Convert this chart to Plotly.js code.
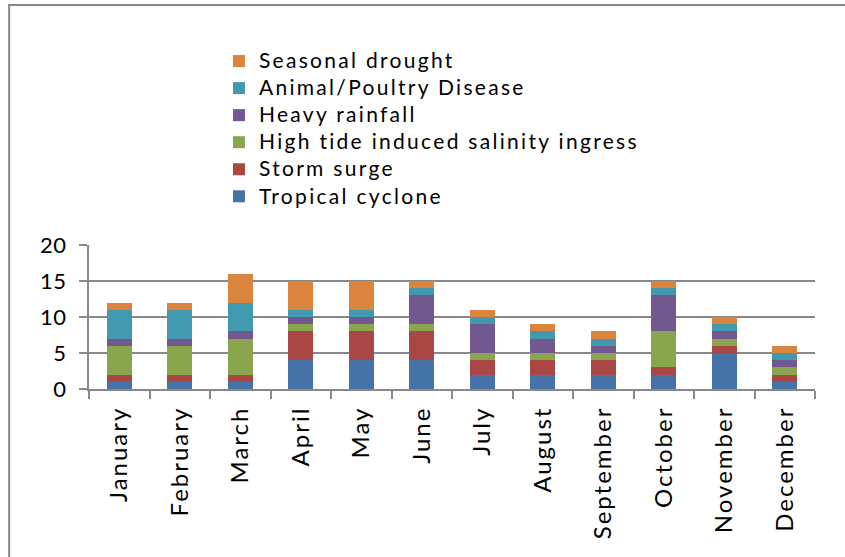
<!DOCTYPE html>
<html>
<head>
<meta charset="utf-8">
<script src="https://cdn.plot.ly/plotly-3.0.1.min.js"></script>
<style>
html,body{margin:0;padding:0;background:#fff;}
#chart{width:845px;height:557px;}
#chart .legendtext{font-size:21px !important;letter-spacing:2.3px;}
#chart .legend .scrollbox{clip-path:none !important;}
#chart .xtick text{letter-spacing:2px;}
#chart .ytick text{letter-spacing:0.5px;}
</style>
</head>
<body>
<div id="chart"></div>
<script>
const months = ["January","February","March","April","May","June","July","August","September","October","November","December"];
const tropicalCyclone = [1,1,1,4,4,4,2,2,2,2,5,1];
const stormSurge      = [1,1,1,4,4,4,2,2,2,1,1,1];
const highTide        = [4,4,5,1,1,1,1,1,1,5,1,1];
const heavyRainfall   = [1,1,1,1,1,4,4,2,1,5,1,1];
const animalDisease   = [4,4,4,1,1,1,1,1,1,1,1,1];
const seasonalDrought = [1,1,4,4,4,1,1,1,1,1,1,1];

const series = [
  {name:"Tropical cyclone", y:tropicalCyclone, color:"#4572A7"},
  {name:"Storm surge", y:stormSurge, color:"#AA4643"},
  {name:"High tide induced salinity ingress", y:highTide, color:"#89A54E"},
  {name:"Heavy rainfall", y:heavyRainfall, color:"#71588F"},
  {name:"Animal/Poultry Disease", y:animalDisease, color:"#4198AF"},
  {name:"Seasonal drought", y:seasonalDrought, color:"#DB843D"}
];

const data = series.map(s => ({
  type:"bar", name:s.name, x:months, y:s.y,
  marker:{color:s.color, line:{width:0}}
}));

const layout = {
  width:845, height:557,
  margin:{l:89, r:30, t:245, b:168},
  paper_bgcolor:"#fff", plot_bgcolor:"#fff",
  barmode:"stack", bargap:0.58,
  font:{family:"Lato, 'Open Sans', sans-serif", color:"#000"},
  showlegend:true,
  legend:{x:0.179, xanchor:"left", y:2.406, yanchor:"top", traceorder:"reversed",
          font:{size:18.5, color:"#000"}, bgcolor:"rgba(0,0,0,0)", tracegroupgap:0},
  xaxis:{type:"category", tickangle:-90, tickfont:{size:24}, showline:true, linecolor:"#888", linewidth:2,
         ticks:"outside", tickson:"boundaries", ticklen:8, tickcolor:"#888", tickwidth:2, showgrid:false,
         ticklabelstandoff:6},
  yaxis:{range:[0,20], dtick:5, tickfont:{size:22}, showline:true, linecolor:"#888", linewidth:2,
         ticks:"outside", ticklen:8, tickcolor:"#888", tickwidth:2, showgrid:true, gridcolor:"#888", gridwidth:2,
         zeroline:false, ticklabelstandoff:8},
  shapes:[{type:"rect", xref:"paper", yref:"paper", x0:-0.11, x1:1.2, y0:-2, y1:2.667,
           line:{color:"#888", width:2}, fillcolor:"rgba(0,0,0,0)", layer:"below"}]
};

Plotly.newPlot("chart", data, layout, {displayModeBar:false, staticPlot:true});
</script>
</body>
</html>
